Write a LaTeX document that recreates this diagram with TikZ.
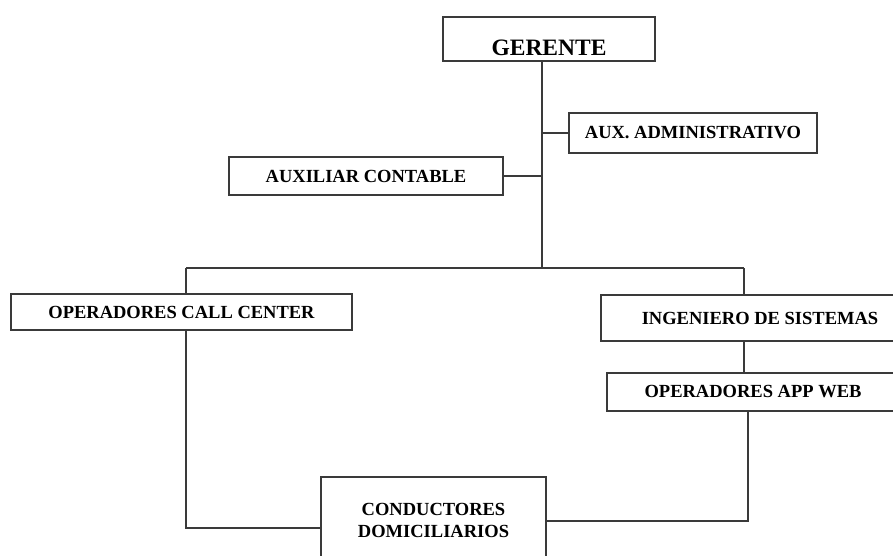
\documentclass[tikz,border=0pt]{standalone}
\usepackage{fontspec}
\setmainfont{Liberation Serif}
\definecolor{linec}{HTML}{3A3A3A}
\tikzset{
  box/.style={draw=linec, line width=1.3pt, fill=white, inner sep=0pt, font=\bfseries\fontsize{18.5}{22}\selectfont, text=black},
  conn/.style={draw=linec, line width=1.3pt},
}
\begin{document}
\begin{tikzpicture}[x=1pt,y=-1pt]
\useasboundingbox (0,0) rectangle (893,555);
\clip (0,0) rectangle (893,555);
% nodes
\node[box, minimum width=212pt, minimum height=44pt, text height=33pt, text depth=0.4pt, font=\bfseries\fontsize{23.5}{26}\selectfont] (ger) at (549,39) {GERENTE};
\node[box, minimum width=248pt, minimum height=40pt] (adm) at (693,133) {AUX. ADMINISTRATIVO};
\node[box, minimum width=274pt, minimum height=38pt] (cont) at (366,176) {AUXILIAR CONTABLE};
\node[box, minimum width=341pt, minimum height=36pt] (call) at (181.5,312) {OPERADORES CALL CENTER};
\node[box, minimum width=318pt, minimum height=46pt] (ing) at (760,318) {INGENIERO DE SISTEMAS};
\node[box, minimum width=292pt, minimum height=38pt] (app) at (753,392) {OPERADORES APP WEB};
\node[box, minimum width=225pt, minimum height=86pt, align=center] (cond) at (433.5,520) {CONDUCTORES\\DOMICILIARIOS};
% coordinates
\coordinate (t) at (542,268);
\coordinate (bl) at (186,268);
\coordinate (br) at (744,268);
\coordinate (cl) at (186,528);
\coordinate (cr) at (748,521);
% connectors
\draw[conn] (ger.south -| t) -- (t);
\draw[conn] (adm.west) -- (adm.west -| t);
\draw[conn] (cont.east) -- (cont.east -| t);
\draw[conn] (bl) -- (br);
\draw[conn] (bl) -- (bl |- call.north);
\draw[conn] (br) -- (br |- ing.north);
\draw[conn] (ing.south -| br) -- (br |- app.north);
\draw[conn] (call.south -| cl) -- (cl) -- (cl -| cond.west);
\draw[conn] (app.south -| cr) -- (cr) -- (cr -| cond.east);
\end{tikzpicture}
\end{document}
